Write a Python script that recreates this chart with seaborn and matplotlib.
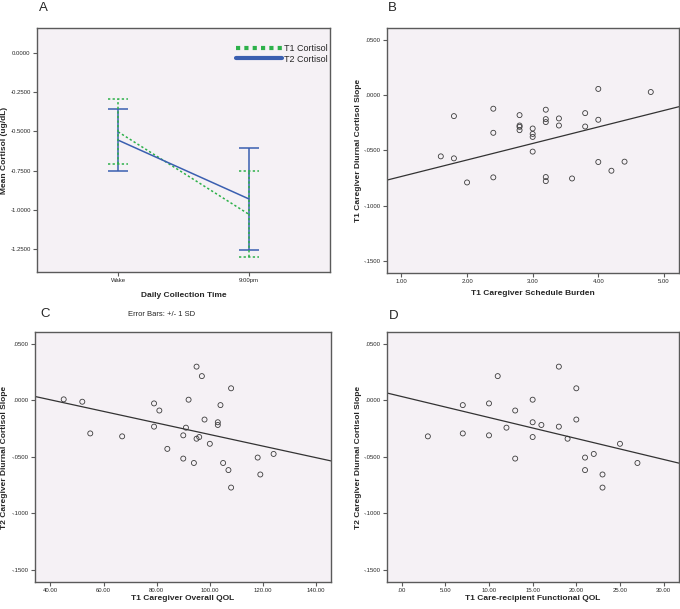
import numpy as np
import pandas as pd
import matplotlib
matplotlib.use('Agg')
import matplotlib.pyplot as plt
from matplotlib.lines import Line2D
from matplotlib.ticker import FuncFormatter
from matplotlib import font_manager
import seaborn as sns

# panel A: mean cortisol, error bars +/- 1 SD
times = ['Wake', '9:00pm']
t1_mean = [-0.502, -1.028]
t1_sd = [0.207, 0.274]
t2_mean = [-0.555, -0.930]
t2_sd = [0.200, 0.325]

# panel B: T1 schedule burden vs T1 diurnal slope
b_burden = [1.6, 1.8, 1.8, 2.0, 2.4, 2.4, 2.4, 2.8, 2.8, 2.8, 2.8, 3.0, 3.0, 3.0, 3.0,
            3.2, 3.2, 3.2, 3.2, 3.2, 3.4, 3.4, 3.6, 3.8, 3.8, 4.0, 4.0, 4.0, 4.2, 4.4, 4.8]
b_slope = [-.0555, -.0191, -.0573, -.0791, -.0124, -.0342, -.0745, -.0182, -.0276, -.0288,
           -.0318, -.0303, -.0352, -.0379, -.0512, -.0133, -.0218, -.0245, -.0742, -.0779,
           -.0212, -.0276, -.0755, -.0164, -.0285, .0055, -.0224, -.0606, -.0685, -.0603, .0027]
# fit line as printed in the figure (intercept, slope)
b_fit = (-0.0886, 0.01492)

# panel C: T1 overall QOL vs T2 diurnal slope
c_qol = [45, 52, 55, 67, 79, 79, 81, 84, 90, 90, 91, 92, 94, 95, 95, 96, 97, 98, 100,
         103, 103, 104, 105, 107, 108, 108, 118, 119, 124]
c_slope = [.0009, -.0012, -.0293, -.0319, -.0027, -.0233, -.0090, -.0430, -.0310, -.0516,
           -.0242, .0006, -.0555, .0299, -.0340, -.0325, .0215, -.0170, -.0385, -.0194,
           -.0218, -.0042, -.0555, -.0618, .0107, -.0773, -.0507, -.0657, -.0475]

# panel D: T1 care-recipient functional QOL vs T2 diurnal slope
d_func = [3, 7, 7, 10, 10, 11, 12, 13, 13, 15, 15, 15, 16, 18, 18, 19, 20, 20, 21, 21,
          22, 23, 23, 25, 27]
d_slope = [-.0319, -.0042, -.0293, -.0027, -.0310, .0215, -.0242, -.0090, -.0516, .0006,
           -.0194, -.0325, -.0218, -.0233, .0299, -.0340, .0107, -.0170, -.0507, -.0618,
           -.0475, -.0657, -.0773, -.0385, -.0555]

sns.set_theme(style='white')
plt.rcParams['font.family'] = ['Liberation Sans', 'DejaVu Sans']

# narrow face for the tiny tick labels, if present
names = {f.name for f in font_manager.fontManager.ttflist}
tick_family = 'Liberation Sans Narrow' if 'Liberation Sans Narrow' in names else 'Liberation Sans'
tick_size = 5 if tick_family == 'Liberation Sans Narrow' else 4.3

green = '#2db14a'
blue = '#3a5fb0'
bg = '#f5f1f5'
line_col = '#333333'
W, H = 680, 609


def slope_fmt(v, pos):
    s = f"{v:.4f}"
    if s.startswith('-0.'):
        s = '-' + s[2:]
    elif s.startswith('0.'):
        s = s[1:]
    return s


def x_fmt(v, pos):
    s = f"{v:.2f}"
    return s[1:] if s.startswith('0.') else s


def make_ax(l, t, r, b):
    ax = fig.add_axes([l / W, 1 - b / H, (r - l) / W, (b - t) / H])
    ax.set_facecolor(bg)
    for sp in ax.spines.values():
        sp.set_color('#5a5a5a')
        sp.set_linewidth(1.0)
    ax.tick_params(axis='both', which='both', direction='out', length=3, width=0.8,
                   color='#5a5a5a', labelsize=tick_size, pad=1.5, left=True, bottom=True)
    return ax


def finish_ticks(ax):
    for t in ax.get_xticklabels() + ax.get_yticklabels():
        t.set_fontfamily(tick_family)


def label_ax(ax, xl, yl, ylx, xly):
    ax.set_xlabel(xl, fontsize=6, fontweight='bold')
    ax.set_ylabel(yl, fontsize=6, fontweight='bold')
    ax.yaxis.set_label_coords(ylx, 0.5)
    ax.xaxis.set_label_coords(0.5, xly)


fig = plt.figure(figsize=(6.8, 6.09), dpi=100)

# ---- A
axA = make_ax(37, 28, 330, 272)
pos = np.arange(len(times))
dfA = pd.DataFrame({
    'pos': np.concatenate([pos, pos]),
    'mean': t1_mean + t2_mean,
    'wave': ['T1 Cortisol'] * 2 + ['T2 Cortisol'] * 2,
})
sns.lineplot(data=dfA, x='pos', y='mean', hue='wave', style='wave',
             palette={'T1 Cortisol': green, 'T2 Cortisol': blue},
             dashes={'T1 Cortisol': (1.5, 1.5), 'T2 Cortisol': ''},
             linewidth=1.1, legend=False, sort=False, ax=axA)
cap = 0.075
for m, sd, c, ls in [(t2_mean, t2_sd, blue, '-'), (t1_mean, t1_sd, green, (0, (1.5, 1.5)))]:
    m = np.array(m)
    sd = np.array(sd)
    axA.vlines(pos, m - sd, m + sd, color=c, linestyle=ls, linewidth=1.1)
    axA.hlines(m + sd, pos - cap, pos + cap, color=c, linestyle=ls, linewidth=1.1)
    axA.hlines(m - sd, pos - cap, pos + cap, color=c, linestyle=ls, linewidth=1.1)
axA.set_xlim(-0.62, 1.62)
axA.set_ylim(-1.396, 0.16)
axA.set_xticks(pos)
axA.set_xticklabels(times)
axA.set_yticks([0, -0.25, -0.5, -0.75, -1.0, -1.25])
axA.yaxis.set_major_formatter(FuncFormatter(lambda v, p: f"{v:.4f}"))
label_ax(axA, 'Daily Collection Time', 'Mean Cortisol (ug/dL)', -0.1, -0.08)
handles = [Line2D([], [], color=green, linestyle=(0, (1, 1)), linewidth=3),
           Line2D([], [], color=blue, linewidth=3)]
axA.legend(handles, ['T1 Cortisol', 'T2 Cortisol'], loc='upper right',
           bbox_to_anchor=(1.005, 0.95), frameon=False, fontsize=6.5,
           handlelength=5, handletextpad=0.3, labelspacing=0.2, borderaxespad=0)
finish_ticks(axA)


def scatter_panel(ax, x, y, xlim, xticks, xl, yl, ylx, xly, fit=None):
    sns.scatterplot(x=x, y=y, ax=ax, s=13, facecolor='none', edgecolor='#3c3c3c',
                    linewidth=0.6, legend=False)
    ax.set_xlim(*xlim)
    if fit is None:
        sns.regplot(x=np.array(x), y=np.array(y), ax=ax, scatter=False, ci=None,
                    truncate=False, line_kws={'color': line_col, 'linewidth': 0.9})
    else:
        ax.axline((0, fit[0]), slope=fit[1], color=line_col, linewidth=0.9)
    ax.set_xlim(*xlim)
    ax.set_ylim(-0.161, 0.0606)
    ax.set_xticks(xticks)
    ax.set_yticks([0.05, 0.0, -0.05, -0.10, -0.15])
    ax.yaxis.set_major_formatter(FuncFormatter(slope_fmt))
    ax.xaxis.set_major_formatter(FuncFormatter(x_fmt))
    label_ax(ax, xl, yl, ylx, xly)
    finish_ticks(ax)


axB = make_ax(387, 28, 679, 273)
scatter_panel(axB, b_burden, b_slope, (0.78, 5.23), [1, 2, 3, 4, 5],
              'T1 Caregiver Schedule Burden', 'T1 Caregiver Diurnal Cortisol Slope',
              -0.084, -0.068, fit=b_fit)

axC = make_ax(35, 332, 331, 582)
scatter_panel(axC, c_qol, c_slope, (34.2, 145.6), [40, 60, 80, 100, 120, 140],
              'T1 Caregiver Overall QOL', 'T2 Caregiver Diurnal Cortisol Slope', -0.09, -0.052)

axD = make_ax(387, 332, 679, 582)
scatter_panel(axD, d_func, d_slope, (-1.68, 31.76), [0, 5, 10, 15, 20, 25, 30],
              'T1 Care-recipient Functional QOL', 'T2 Caregiver Diurnal Cortisol Slope',
              -0.084, -0.052)

# panel letters and note
for letter, x, y in [('A', 39, 11), ('B', 388, 11), ('C', 40, 317), ('D', 389, 319)]:
    fig.text(x / W, 1 - y / H, letter, fontsize=9.5, va='baseline', ha='left')
fig.text(128 / W, 1 - 316 / H, 'Error Bars: +/- 1 SD', fontsize=5.5, va='baseline', ha='left')

fig.savefig('out.png', dpi=100)
